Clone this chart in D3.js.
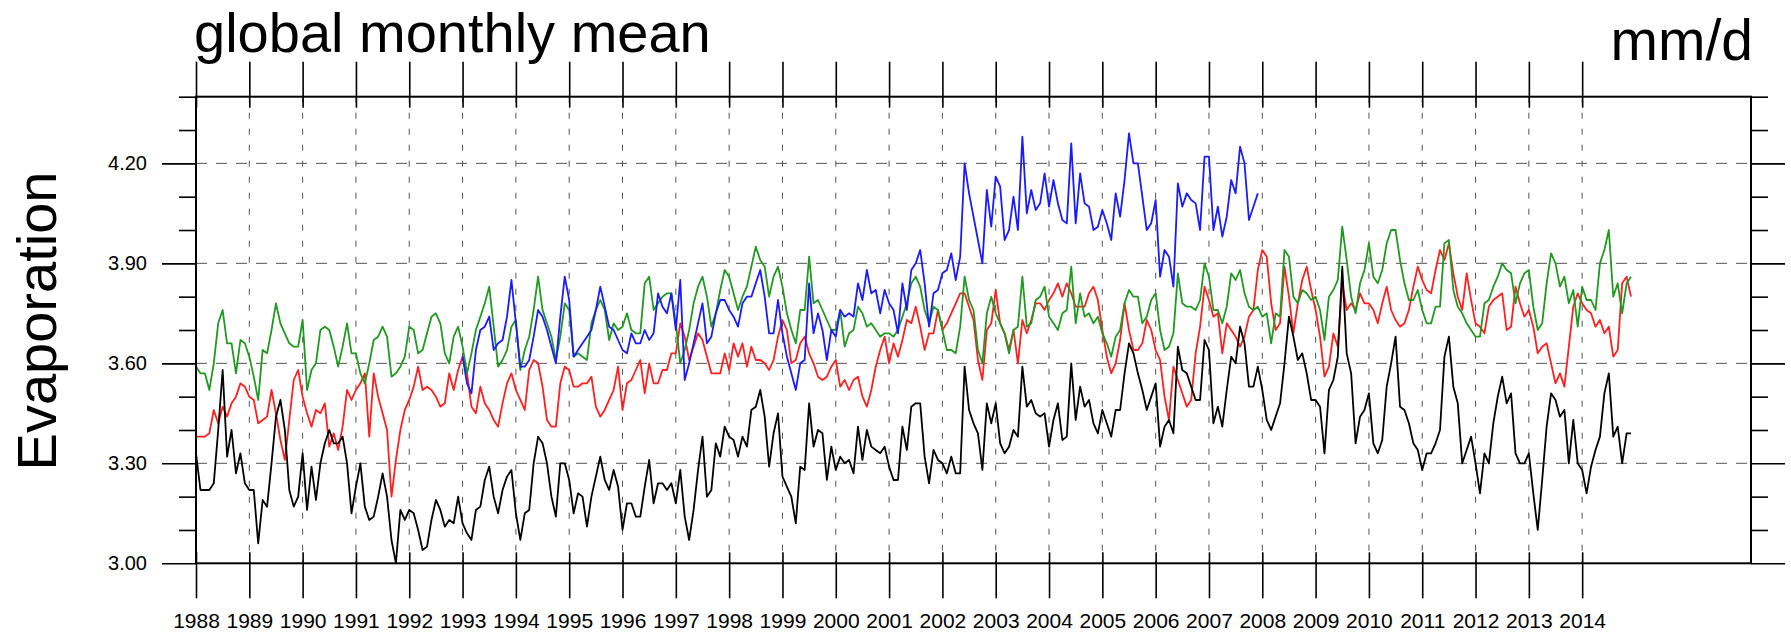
<!DOCTYPE html>
<html>
<head>
<meta charset="utf-8">
<script src="https://cdn.jsdelivr.net/npm/d3@7"></script>
<style>
  body { margin: 0; background: #fff; }
  text { font-family: "Liberation Sans", Arial, Helvetica, sans-serif; fill: #000; }
</style>
</head>
<body>
<div id="chart"></div>
<script>
// monthly values, Jan 1988 .. Dec 2014 (blue: Jan 1993 .. Dec 2007)
var blackValues = [
  3.33,3.22,3.22,3.22,3.24,3.40,3.58,3.32,3.40,3.27,3.33,3.24,
  3.22,3.22,3.06,3.19,3.17,3.30,3.44,3.49,3.40,3.22,3.17,3.20,
  3.33,3.16,3.29,3.19,3.30,3.36,3.40,3.36,3.36,3.38,3.30,3.15,
  3.23,3.30,3.17,3.13,3.14,3.20,3.27,3.20,3.07,3.00,3.16,3.13,
  3.16,3.15,3.10,3.04,3.05,3.13,3.19,3.16,3.11,3.13,3.12,3.20,
  3.12,3.09,3.07,3.16,3.17,3.25,3.29,3.20,3.15,3.22,3.26,3.28,
  3.15,3.07,3.15,3.16,3.30,3.38,3.36,3.30,3.20,3.14,3.30,3.30,
  3.25,3.15,3.21,3.20,3.11,3.20,3.26,3.32,3.25,3.22,3.28,3.23,
  3.10,3.18,3.18,3.14,3.14,3.23,3.31,3.18,3.24,3.24,3.22,3.24,
  3.18,3.28,3.14,3.07,3.16,3.28,3.38,3.20,3.22,3.36,3.32,3.41,
  3.38,3.37,3.32,3.38,3.35,3.46,3.47,3.52,3.44,3.29,3.39,3.45,
  3.26,3.23,3.20,3.12,3.29,3.28,3.48,3.35,3.40,3.39,3.25,3.35,
  3.28,3.32,3.30,3.31,3.27,3.41,3.31,3.40,3.35,3.34,3.33,3.35,
  3.29,3.25,3.25,3.41,3.34,3.47,3.48,3.48,3.32,3.24,3.34,3.31,
  3.30,3.27,3.32,3.27,3.27,3.59,3.46,3.42,3.39,3.28,3.48,3.42,
  3.48,3.36,3.33,3.35,3.40,3.38,3.59,3.47,3.49,3.45,3.44,3.45,
  3.35,3.43,3.48,3.37,3.38,3.60,3.43,3.53,3.47,3.49,3.42,3.39,
  3.46,3.42,3.38,3.46,3.46,3.57,3.66,3.63,3.57,3.52,3.46,3.50,
  3.54,3.35,3.41,3.43,3.39,3.65,3.58,3.57,3.53,3.49,3.49,3.67,
  3.64,3.42,3.47,3.41,3.52,3.62,3.60,3.71,3.66,3.53,3.53,3.59,
  3.52,3.43,3.40,3.44,3.48,3.60,3.74,3.68,3.61,3.63,3.57,3.49,
  3.49,3.47,3.33,3.52,3.55,3.62,3.89,3.63,3.57,3.36,3.44,3.46,
  3.51,3.36,3.33,3.37,3.53,3.60,3.68,3.47,3.46,3.42,3.36,3.34,
  3.28,3.33,3.33,3.36,3.40,3.62,3.68,3.53,3.48,3.30,3.34,3.38,
  3.30,3.21,3.33,3.30,3.42,3.50,3.56,3.48,3.51,3.33,3.30,3.30,
  3.33,3.21,3.10,3.25,3.41,3.51,3.49,3.44,3.46,3.30,3.43,3.30,
  3.28,3.21,3.29,3.34,3.38,3.51,3.57,3.38,3.41,3.30,3.39,3.39
];

var redValues = [
  3.38,3.38,3.38,3.39,3.46,3.42,3.47,3.44,3.48,3.50,3.54,3.53,
  3.50,3.49,3.42,3.43,3.44,3.52,3.45,3.37,3.31,3.43,3.55,3.58,
  3.50,3.45,3.41,3.46,3.45,3.48,3.35,3.39,3.34,3.41,3.52,3.49,
  3.52,3.54,3.57,3.38,3.57,3.50,3.45,3.40,3.20,3.31,3.40,3.46,
  3.49,3.53,3.59,3.52,3.53,3.52,3.50,3.47,3.48,3.57,3.52,3.58,
  3.62,3.57,3.47,3.45,3.53,3.48,3.46,3.43,3.41,3.48,3.54,3.57,
  3.52,3.49,3.46,3.58,3.61,3.60,3.53,3.43,3.41,3.41,3.54,3.59,
  3.58,3.53,3.53,3.54,3.54,3.56,3.47,3.44,3.46,3.49,3.52,3.59,
  3.46,3.54,3.55,3.58,3.61,3.51,3.60,3.54,3.54,3.58,3.58,3.63,
  3.63,3.72,3.68,3.61,3.65,3.69,3.67,3.62,3.57,3.57,3.57,3.63,
  3.58,3.66,3.62,3.66,3.59,3.65,3.61,3.61,3.60,3.58,3.61,3.68,
  3.73,3.70,3.60,3.61,3.66,3.68,3.63,3.60,3.56,3.55,3.56,3.59,
  3.61,3.53,3.55,3.52,3.55,3.56,3.50,3.47,3.52,3.59,3.64,3.68,
  3.60,3.66,3.62,3.67,3.73,3.72,3.77,3.71,3.64,3.69,3.69,3.76,
  3.70,3.72,3.75,3.78,3.81,3.81,3.77,3.73,3.61,3.55,3.70,3.72,
  3.82,3.72,3.69,3.64,3.70,3.60,3.73,3.69,3.73,3.78,3.78,3.76,
  3.79,3.81,3.84,3.80,3.84,3.81,3.77,3.77,3.77,3.81,3.83,3.79,
  3.70,3.62,3.57,3.60,3.67,3.78,3.70,3.64,3.64,3.66,3.73,3.70,
  3.64,3.61,3.50,3.43,3.59,3.55,3.51,3.47,3.49,3.63,3.71,3.83,
  3.79,3.74,3.75,3.63,3.72,3.70,3.68,3.65,3.68,3.74,3.76,3.88,
  3.94,3.92,3.78,3.70,3.72,3.89,3.80,3.69,3.78,3.85,3.89,3.82,
  3.76,3.68,3.56,3.59,3.69,3.65,3.84,3.76,3.78,3.76,3.81,3.78,
  3.78,3.76,3.72,3.78,3.83,3.76,3.73,3.71,3.72,3.76,3.83,3.89,
  3.85,3.82,3.81,3.88,3.94,3.91,3.96,3.87,3.80,3.76,3.87,3.79,
  3.72,3.71,3.69,3.77,3.79,3.80,3.81,3.70,3.71,3.83,3.78,3.74,
  3.76,3.71,3.63,3.65,3.66,3.60,3.54,3.57,3.53,3.65,3.77,3.81,
  3.78,3.76,3.75,3.71,3.73,3.69,3.71,3.62,3.64,3.84,3.86,3.80
];

var greenValues = [
  3.59,3.57,3.57,3.52,3.60,3.72,3.76,3.66,3.66,3.57,3.67,3.66,
  3.62,3.56,3.49,3.64,3.63,3.70,3.78,3.72,3.69,3.66,3.65,3.65,
  3.73,3.52,3.58,3.60,3.70,3.71,3.70,3.65,3.59,3.65,3.72,3.63,
  3.63,3.57,3.54,3.60,3.67,3.68,3.71,3.68,3.56,3.57,3.59,3.62,
  3.71,3.70,3.63,3.64,3.69,3.74,3.75,3.72,3.63,3.60,3.68,3.71,
  3.65,3.57,3.63,3.70,3.74,3.78,3.83,3.71,3.59,3.61,3.64,3.71,
  3.73,3.58,3.64,3.68,3.76,3.86,3.76,3.72,3.68,3.61,3.68,3.78,
  3.76,3.62,3.63,3.62,3.61,3.72,3.76,3.79,3.76,3.67,3.72,3.70,
  3.71,3.75,3.70,3.69,3.69,3.84,3.86,3.76,3.78,3.80,3.81,3.81,
  3.72,3.60,3.64,3.70,3.78,3.83,3.86,3.80,3.71,3.75,3.82,3.88,
  3.86,3.81,3.76,3.80,3.83,3.89,3.95,3.91,3.89,3.80,3.86,3.89,
  3.83,3.75,3.70,3.66,3.76,3.76,3.92,3.78,3.79,3.76,3.73,3.70,
  3.70,3.76,3.65,3.69,3.70,3.77,3.75,3.71,3.72,3.70,3.68,3.69,
  3.69,3.68,3.70,3.74,3.78,3.84,3.86,3.83,3.76,3.72,3.77,3.76,
  3.70,3.64,3.64,3.63,3.71,3.86,3.79,3.76,3.64,3.60,3.75,3.80,
  3.75,3.72,3.69,3.63,3.70,3.71,3.86,3.71,3.72,3.79,3.80,3.83,
  3.74,3.72,3.70,3.75,3.76,3.89,3.72,3.81,3.74,3.75,3.72,3.74,
  3.69,3.66,3.62,3.68,3.70,3.78,3.82,3.80,3.80,3.72,3.74,3.79,
  3.81,3.70,3.64,3.65,3.69,3.87,3.78,3.77,3.77,3.76,3.79,3.90,
  3.86,3.76,3.76,3.72,3.77,3.87,3.85,3.88,3.81,3.77,3.76,3.77,
  3.74,3.75,3.66,3.75,3.74,3.94,3.92,3.80,3.78,3.82,3.81,3.79,
  3.80,3.76,3.67,3.80,3.82,3.85,4.01,3.91,3.80,3.75,3.84,3.88,
  3.96,3.86,3.84,3.88,3.96,4.00,4.00,3.91,3.84,3.79,3.79,3.82,
  3.76,3.72,3.72,3.77,3.77,3.96,3.97,3.82,3.77,3.75,3.72,3.70,
  3.68,3.68,3.78,3.79,3.83,3.86,3.90,3.88,3.87,3.78,3.84,3.87,
  3.88,3.77,3.70,3.72,3.84,3.93,3.90,3.83,3.86,3.78,3.82,3.71,
  3.83,3.79,3.79,3.76,3.90,3.94,4.00,3.80,3.84,3.75,3.84,3.86
];

var blueValues = [
  3.62,3.54,3.51,3.64,3.70,3.71,3.74,3.64,3.66,3.67,3.74,3.85,
  3.72,3.59,3.59,3.61,3.68,3.76,3.74,3.70,3.65,3.60,3.74,3.86,
  3.79,3.62,3.64,3.66,3.68,3.70,3.76,3.83,3.77,3.71,3.70,3.67,
  3.64,3.63,3.69,3.66,3.66,3.70,3.67,3.69,3.81,3.77,3.75,3.81,
  3.70,3.85,3.55,3.60,3.66,3.72,3.78,3.66,3.68,3.75,3.79,3.79,
  3.76,3.74,3.71,3.78,3.80,3.80,3.84,3.88,3.80,3.69,3.69,3.79,
  3.69,3.62,3.57,3.52,3.60,3.61,3.84,3.69,3.75,3.70,3.61,3.70,
  3.68,3.76,3.74,3.75,3.74,3.84,3.79,3.88,3.81,3.82,3.75,3.82,
  3.78,3.76,3.69,3.84,3.76,3.88,3.90,3.94,3.84,3.71,3.81,3.82,
  3.87,3.88,3.93,3.85,3.92,4.20,4.11,4.04,3.97,3.90,4.12,4.01,
  4.16,4.13,3.97,4.00,4.10,4.00,4.28,4.05,4.12,4.06,4.08,4.17,
  4.07,4.15,4.08,4.03,4.02,4.26,4.02,4.17,4.08,4.07,4.00,4.01,
  4.06,4.02,3.97,4.11,4.04,4.15,4.29,4.20,4.20,4.10,4.00,4.02,
  4.09,3.86,3.94,3.92,3.83,4.14,4.07,4.11,4.09,4.08,4.00,4.22,
  4.22,4.00,4.07,3.98,4.04,4.15,4.11,4.25,4.20,4.03,4.07,4.11
];

var yearTicks = d3.range(1988, 2015);
var yMajor = [3.0, 3.3, 3.6, 3.9, 4.2];
var yMinor = [3.1, 3.2, 3.4, 3.5, 3.7, 3.8, 4.0, 4.1, 4.3, 4.4];

(function() {
  var series = [
    {values: redValues, start: 1988, color: "#ff1f1f"},
    {values: greenValues, start: 1988, color: "#1f9a1f"},
    {values: blueValues, start: 1993, color: "#1a1aff"},
    {values: blackValues, start: 1988, color: "#000000"}
  ];

  var width = 1791, height = 633;
  var plotLeft = 196, plotRight = 1751, plotTop = 96.7, plotBottom = 563.3;

  var svg = d3.select("#chart")
    .append("svg")
      .attr("width", width)
      .attr("height", height);

  var x = d3.scaleLinear()
    .domain([1988, 1988 + 350 / 12])
    .range([plotLeft, plotRight]);

  var y = d3.scaleLinear()
    .domain([3.0, 4.4])
    .range([plotBottom, plotTop]);

  // dashed grid
  svg.append("g")
    .selectAll("line")
    .data(yMajor.slice(1))
    .enter().append("line")
      .attr("x1", plotLeft).attr("x2", plotRight)
      .attr("y1", d => y(d)).attr("y2", d => y(d))
      .attr("stroke", "#555").attr("stroke-width", 1)
      .attr("stroke-dasharray", "11,9");

  svg.append("g")
    .selectAll("line")
    .data(yearTicks.slice(1))
    .enter().append("line")
      .attr("x1", d => x(d)).attr("x2", d => x(d))
      .attr("y1", plotTop).attr("y2", plotBottom)
      .attr("stroke", "#555").attr("stroke-width", 1)
      .attr("stroke-dasharray", "6,10");

  // lines
  series.forEach(function(s) {
    var line = d3.line()
      .x((d, i) => x(s.start + i / 12))
      .y(d => y(d));
    svg.append("path")
      .attr("d", line(s.values))
      .attr("fill", "none")
      .attr("stroke", s.color)
      .attr("stroke-width", 1.8)
      .attr("stroke-linejoin", "round");
  });

  // axes
  function styleAxis(g) {
    g.select(".domain").remove();
    g.selectAll(".tick line").attr("stroke", "#000").attr("stroke-width", 1.6);
    g.selectAll(".tick text").attr("fill", "#000").style("font-family", null);
  }

  svg.append("g")
    .attr("transform", "translate(0," + plotTop + ")")
    .call(d3.axisTop(x).tickValues(yearTicks).tickSize(35).tickFormat(""))
    .call(styleAxis)
    .call(g => g.selectAll(".tick line").attr("y1", 11));

  svg.append("g")
    .attr("transform", "translate(0," + plotBottom + ")")
    .call(d3.axisBottom(x).tickValues(yearTicks).tickSize(35).tickPadding(15).tickFormat(d3.format("d")))
    .call(styleAxis)
    .call(g => g.selectAll(".tick line").attr("y1", -11))
    .call(g => g.selectAll(".tick text").style("font-size", "21px"));

  svg.append("g")
    .attr("transform", "translate(" + plotLeft + ",0)")
    .call(d3.axisLeft(y).tickValues(yMajor).tickSize(34).tickPadding(15).tickFormat(d3.format(".2f")))
    .call(styleAxis)
    .call(g => g.selectAll(".tick text").style("font-size", "20px").attr("fill", "#222"));

  svg.append("g")
    .attr("transform", "translate(" + plotLeft + ",0)")
    .call(d3.axisLeft(y).tickValues(yMinor).tickSize(17).tickFormat(""))
    .call(styleAxis);

  svg.append("g")
    .attr("transform", "translate(" + plotRight + ",0)")
    .call(d3.axisRight(y).tickValues(yMajor).tickSize(34).tickFormat(""))
    .call(styleAxis);

  svg.append("g")
    .attr("transform", "translate(" + plotRight + ",0)")
    .call(d3.axisRight(y).tickValues(yMinor).tickSize(17).tickFormat(""))
    .call(styleAxis);

  // frame
  svg.append("rect")
    .attr("x", plotLeft).attr("y", plotTop)
    .attr("width", plotRight - plotLeft).attr("height", plotBottom - plotTop)
    .attr("fill", "none").attr("stroke", "#000").attr("stroke-width", 2);

  // titles
  svg.append("text")
    .attr("x", 194).attr("y", 52)
    .style("font-size", "56px")
    .text("global monthly mean");

  svg.append("text")
    .attr("x", 1753).attr("y", 60)
    .attr("text-anchor", "end")
    .style("font-size", "57px")
    .text("mm/d");

  svg.append("text")
    .attr("transform", "translate(56,321) rotate(-90)")
    .attr("text-anchor", "middle")
    .style("font-size", "56px")
    .text("Evaporation");
})();
</script>
</body>
</html>
